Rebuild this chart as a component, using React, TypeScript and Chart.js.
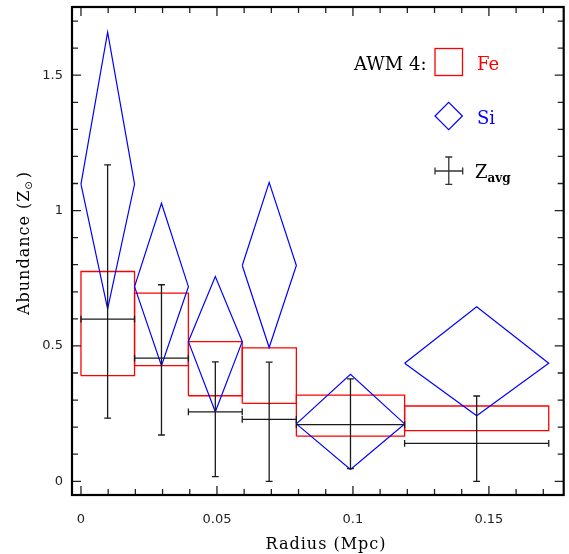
import React, { useEffect, useRef } from "react";
import { Chart, registerables } from "chart.js";

Chart.register(...registerables);

// ---- data ----
const binLo = [0, 0.0197, 0.0395, 0.0593, 0.0792, 0.119];
const binHi = [0.0197, 0.0395, 0.0593, 0.0792, 0.119, 0.172];
const binMid = [0.0098, 0.0296, 0.0494, 0.0692, 0.0991, 0.1455];

const feLo = [0.39, 0.427, 0.316, 0.288, 0.167, 0.187];
const feHi = [0.775, 0.695, 0.516, 0.493, 0.318, 0.278];

const siVal = [1.098, 0.719, 0.516, 0.797, 0.212, 0.436];
const siHi = [1.659, 1.027, 0.756, 1.104, 0.395, 0.645];
const siLo = [0.637, 0.427, 0.257, 0.494, 0.044, 0.242];

const zVal = [0.599, 0.455, 0.256, 0.229, 0.209, 0.14];
const zHi = [1.169, 0.726, 0.441, 0.44, 0.378, 0.315];
const zLo = [0.233, 0.171, 0.017, 0.0, 0.047, 0.0];

const xTickValues = [0, 0.05, 0.1, 0.15];
const yTickValues = [0, 0.5, 1, 1.5];
const xMinorStep = 0.01;
const yMinorStep = 0.1;

const X_MIN = -0.0033;
const X_MAX = 0.1775;
const Y_MIN = -0.0507;
const Y_MAX = 1.752;

const RED = "#ff0000";
const BLUE = "#0000ff";
const BLACK = "#1a1a1a";

function buildDatasets() {
  const ds: any[] = [];
  binLo.forEach((x0, i) => {
    const x1 = binHi[i];
    ds.push({
      data: [
        { x: x0, y: feLo[i] },
        { x: x1, y: feLo[i] },
        { x: x1, y: feHi[i] },
        { x: x0, y: feHi[i] },
        { x: x0, y: feLo[i] },
      ],
      showLine: true,
      borderColor: RED,
      borderWidth: 1.3,
      pointRadius: 0,
      fill: false,
      tension: 0,
      order: 3,
    });
  });
  binLo.forEach((x0, i) => {
    const x1 = binHi[i];
    const xc = binMid[i];
    ds.push({
      data: [
        { x: x0, y: siVal[i] },
        { x: xc, y: siHi[i] },
        { x: x1, y: siVal[i] },
        { x: xc, y: siLo[i] },
        { x: x0, y: siVal[i] },
      ],
      showLine: true,
      borderColor: BLUE,
      borderWidth: 1.2,
      pointRadius: 0,
      fill: false,
      tension: 0,
      order: 2,
    });
  });
  binLo.forEach((x0, i) => {
    const x1 = binHi[i];
    const xc = binMid[i];
    ds.push({
      data: [
        { x: x0, y: zVal[i] },
        { x: x1, y: zVal[i] },
      ],
      showLine: true,
      borderColor: BLACK,
      borderWidth: 1.3,
      pointRadius: 0,
      fill: false,
      order: 1,
    });
    ds.push({
      data: [
        { x: xc, y: zLo[i] },
        { x: xc, y: zHi[i] },
      ],
      showLine: true,
      borderColor: BLACK,
      borderWidth: 1.3,
      pointRadius: 0,
      fill: false,
      order: 1,
    });
  });
  // caps on vertical error bars (horizontal little lines)
  ds.push({
    data: binMid.flatMap((xc, i) => [
      { x: xc, y: zLo[i] },
      { x: xc, y: zHi[i] },
    ]),
    showLine: false,
    pointStyle: "line",
    pointRadius: 3.4,
    pointRotation: 0,
    borderColor: BLACK,
    borderWidth: 1.3,
    order: 1,
  });
  // caps on horizontal bars (vertical little lines)
  ds.push({
    data: binLo.flatMap((x0, i) => [
      { x: x0, y: zVal[i] },
      { x: binHi[i], y: zVal[i] },
    ]),
    showLine: false,
    pointStyle: "line",
    pointRadius: 3.4,
    pointRotation: 90,
    borderColor: BLACK,
    borderWidth: 1.3,
    order: 1,
  });
  return ds;
}

const decorPlugin = {
  id: "decor",
  afterDatasetsDraw(chart: any) {
    const ctx = chart.ctx as CanvasRenderingContext2D;
    const { left, right, top, bottom } = chart.chartArea;
    const xs = chart.scales.x;
    const ys = chart.scales.y;
    ctx.save();
    // ticks (inward, all four sides)
    ctx.strokeStyle = "#222";
    ctx.lineWidth = 1.3;
    ctx.beginPath();
    for (let i = 0; i * xMinorStep <= X_MAX + 1e-9; i++) {
      const v = i * xMinorStep;
      if (v < X_MIN) continue;
      const px = xs.getPixelForValue(v);
      const len = i % 5 === 0 ? 9 : 6;
      ctx.moveTo(px, bottom);
      ctx.lineTo(px, bottom - len);
      ctx.moveTo(px, top);
      ctx.lineTo(px, top + len);
    }
    for (let i = 0; i * yMinorStep <= Y_MAX + 1e-9; i++) {
      const v = i * yMinorStep;
      const py = ys.getPixelForValue(v);
      const len = i % 5 === 0 ? 9 : 6;
      ctx.moveTo(left, py);
      ctx.lineTo(left + len, py);
      ctx.moveTo(right, py);
      ctx.lineTo(right - len, py);
    }
    ctx.stroke();
    // frame
    ctx.strokeStyle = "#000";
    ctx.lineWidth = 2.2;
    ctx.strokeRect(left, top, right - left, bottom - top);

    // legend
    ctx.textBaseline = "alphabetic";
    ctx.textAlign = "left";
    ctx.font = "18px 'DejaVu Serif'";
    ctx.fillStyle = "#000";
    ctx.fillText("AWM 4:", 354, 69.5);
    ctx.strokeStyle = RED;
    ctx.lineWidth = 1.3;
    ctx.strokeRect(435, 48.5, 27.5, 27);
    ctx.fillStyle = RED;
    ctx.fillText("Fe", 477, 69.5);

    ctx.strokeStyle = BLUE;
    ctx.lineWidth = 1.2;
    ctx.beginPath();
    ctx.moveTo(435, 116);
    ctx.lineTo(448.7, 102.3);
    ctx.lineTo(462.4, 116);
    ctx.lineTo(448.7, 129.7);
    ctx.closePath();
    ctx.stroke();
    ctx.fillStyle = BLUE;
    ctx.fillText("Si", 477, 123.5);

    ctx.strokeStyle = "#333";
    ctx.lineWidth = 1.3;
    ctx.beginPath();
    ctx.moveTo(435, 171);
    ctx.lineTo(462.7, 171);
    ctx.moveTo(448.8, 157);
    ctx.lineTo(448.8, 184.3);
    ctx.moveTo(435, 167.5);
    ctx.lineTo(435, 174.5);
    ctx.moveTo(462.7, 167.5);
    ctx.lineTo(462.7, 174.5);
    ctx.moveTo(445.3, 157);
    ctx.lineTo(452.3, 157);
    ctx.moveTo(445.3, 184.3);
    ctx.lineTo(452.3, 184.3);
    ctx.stroke();
    ctx.fillStyle = "#000";
    ctx.fillText("Z", 475, 178);
    ctx.font = "bold 12px 'DejaVu Serif'";
    ctx.fillText("avg", 487.5, 182);

    // axis titles
    ctx.font = "16px 'DejaVu Serif'";
    (ctx as any).letterSpacing = "1px";
    ctx.fillStyle = "#000";
    ctx.textAlign = "center";
    ctx.fillText("Radius (Mpc)", 326, 548.5);

    // y title with subscript sun symbol
    const main = "Abundance (Z";
    ctx.textAlign = "left";
    const wMain = ctx.measureText(main).width;
    ctx.font = "10px 'DejaVu Sans'";
    const wSun = ctx.measureText("\u2299").width;
    ctx.font = "16px 'DejaVu Serif'";
    const wClose = ctx.measureText(")").width;
    const total = wMain + wSun + 2 + wClose;
    ctx.translate(29, 243);
    ctx.rotate(-Math.PI / 2);
    let cx = -total / 2;
    ctx.fillText(main, cx, 0);
    cx += wMain;
    ctx.font = "10px 'DejaVu Sans'";
    ctx.fillText("\u2299", cx, 3);
    cx += wSun + 2;
    ctx.font = "16px 'DejaVu Serif'";
    ctx.fillText(")", cx, 0);
    ctx.restore();
  },
};

export default function App() {
  const ref = useRef<HTMLCanvasElement>(null);
  useEffect(() => {
    if (!ref.current) return;
    const chart = new Chart(ref.current, {
      type: "scatter",
      data: { datasets: buildDatasets() },
      options: {
        animation: false,
        responsive: false,
        devicePixelRatio: 1,
        events: [],
        layout: { padding: { left: 0, right: 5, top: 7, bottom: 0 } },
        plugins: { legend: { display: false }, tooltip: { enabled: false } },
        scales: {
          x: {
            type: "linear",
            min: X_MIN,
            max: X_MAX,
            grid: { display: false, drawTicks: false },
            border: { display: false },
            title: { display: false },
            ticks: {
              autoSkip: false,
              maxRotation: 0,
              padding: 17,
              color: "#222",
              font: { family: "'DejaVu Sans'", size: 13 },
              callback: (v: any) => String(v),
            },
            afterBuildTicks: (s: any) => {
              s.ticks = xTickValues.map((v) => ({ value: v }));
            },
            afterFit: (s: any) => {
              s.height = 59;
              s.paddingLeft = 0;
              s.paddingRight = 0;
            },
          },
          y: {
            type: "linear",
            min: Y_MIN,
            max: Y_MAX,
            grid: { display: false, drawTicks: false },
            border: { display: false },
            title: { display: false },
            ticks: {
              autoSkip: false,
              padding: 9,
              color: "#222",
              font: { family: "'DejaVu Sans'", size: 13 },
              callback: (v: any) => String(v),
            },
            afterBuildTicks: (s: any) => {
              s.ticks = yTickValues.map((v) => ({ value: v }));
            },
            afterFit: (s: any) => {
              s.width = 72;
              s.paddingTop = 0;
              s.paddingBottom = 0;
            },
          },
        },
      },
      plugins: [decorPlugin],
    } as any);
    return () => chart.destroy();
  }, []);
  return (
    <div
      style={{
        position: "absolute",
        left: 0,
        top: 0,
        width: 569,
        height: 554,
        background: "#fff",
      }}
    >
      <canvas
        ref={ref}
        width={569}
        height={554}
        style={{ display: "block", width: 569, height: 554 }}
      />
    </div>
  );
}
